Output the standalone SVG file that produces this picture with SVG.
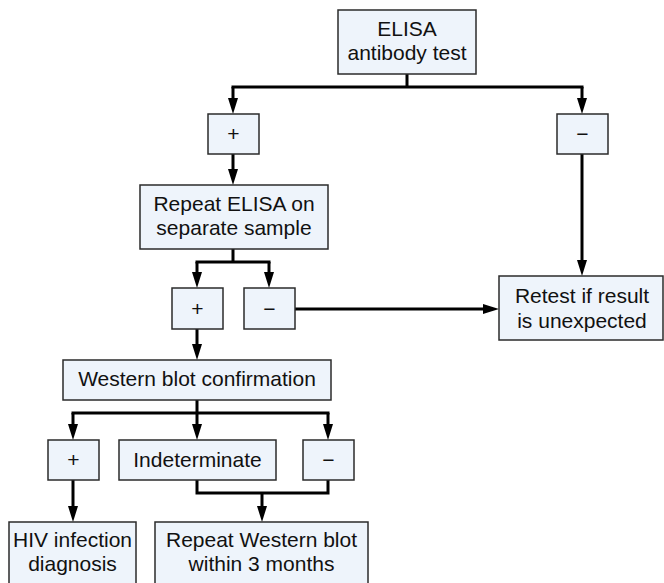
<svg xmlns="http://www.w3.org/2000/svg" width="664" height="583" viewBox="0 0 664 583">
  <defs>
    <style>
      .box { fill: #eef4fb; stroke: #2b2b2b; stroke-width: 1.5; }
      .lbl { font-family: "Liberation Sans", Arial, sans-serif; font-size: 21px; fill: #111; text-anchor: middle; }
      .conn { fill: none; stroke: #000; stroke-width: 3; }
      .arr { fill: none; stroke: #000; stroke-width: 3; marker-end: url(#ah); }
    </style>
    <marker id="ah" viewBox="0 0 16 10" refX="8" refY="5" markerWidth="16" markerHeight="10" markerUnits="userSpaceOnUse" orient="auto">
      <path d="M0,0 L16,5 L0,10 Z" fill="#000"/>
    </marker>
  </defs>
  <rect width="664" height="583" fill="#fff"/>

  <g id="connectors">
    <path class="conn" d="M407,74 V87 M231.5,87 H583.5"/>
    <path class="arr" d="M233,87 V106"/>
    <path class="arr" d="M582,87 V106"/>
    <path class="arr" d="M233,154 V177"/>
    <path class="arr" d="M582,154 V268"/>
    <path class="conn" d="M233,249 V262 M195.5,262 H270.5"/>
    <path class="arr" d="M197,262 V280"/>
    <path class="arr" d="M269,262 V280"/>
    <path class="arr" d="M295,309 H491"/>
    <path class="arr" d="M197,329 V352"/>
    <path class="conn" d="M197,400 V413 M71.5,413 H329.5"/>
    <path class="arr" d="M73,413 V432"/>
    <path class="arr" d="M197,413 V432"/>
    <path class="arr" d="M328,413 V432"/>
    <path class="arr" d="M73,480 V514"/>
    <path class="conn" d="M197,480 V493 H328 V480"/>
    <path class="arr" d="M262,493 V514"/>
  </g>

  <g id="elisa">
    <rect class="box" x="338" y="10" width="138" height="64"/>
    <text class="lbl" x="407" y="36">ELISA</text>
    <text class="lbl" x="407" y="60">antibody test</text>
  </g>
  <g id="pos1">
    <rect class="box" x="208" y="114" width="51" height="40"/>
    <text class="lbl" x="233.5" y="141">+</text>
  </g>
  <g id="neg1">
    <rect class="box" x="557" y="114" width="51" height="40"/>
    <text class="lbl" x="582.5" y="141">−</text>
  </g>
  <g id="repeat-elisa">
    <rect class="box" x="140" y="185" width="188" height="64"/>
    <text class="lbl" x="234" y="211">Repeat ELISA on</text>
    <text class="lbl" x="234" y="235">separate sample</text>
  </g>
  <g id="pos2">
    <rect class="box" x="172" y="288" width="51" height="41"/>
    <text class="lbl" x="197.5" y="316">+</text>
  </g>
  <g id="neg2">
    <rect class="box" x="244" y="288" width="51" height="41"/>
    <text class="lbl" x="269.5" y="316">−</text>
  </g>
  <g id="retest">
    <rect class="box" x="499" y="276" width="164" height="64"/>
    <text class="lbl" x="582" y="303">Retest if result</text>
    <text class="lbl" x="582" y="328">is unexpected</text>
  </g>
  <g id="western">
    <rect class="box" x="63" y="360" width="268" height="40"/>
    <text class="lbl" x="197" y="386">Western blot confirmation</text>
  </g>
  <g id="pos3">
    <rect class="box" x="48" y="440" width="51" height="40"/>
    <text class="lbl" x="73.5" y="467">+</text>
  </g>
  <g id="indeterminate">
    <rect class="box" x="119" y="440" width="157" height="40"/>
    <text class="lbl" x="197.5" y="467">Indeterminate</text>
  </g>
  <g id="neg3">
    <rect class="box" x="303" y="440" width="51" height="40"/>
    <text class="lbl" x="328.5" y="467">−</text>
  </g>
  <g id="hiv">
    <rect class="box" x="9" y="522" width="127" height="70"/>
    <text class="lbl" x="72.5" y="547">HIV infection</text>
    <text class="lbl" x="72.5" y="571">diagnosis</text>
  </g>
  <g id="repeat-western">
    <rect class="box" x="155" y="522" width="213" height="70"/>
    <text class="lbl" x="261.5" y="547">Repeat Western blot</text>
    <text class="lbl" x="261.5" y="571">within 3 months</text>
  </g>
</svg>
